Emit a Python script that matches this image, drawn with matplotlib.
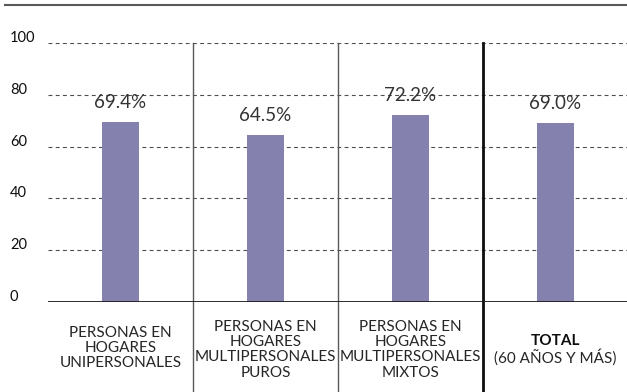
import matplotlib.pyplot as plt
import matplotlib
import matplotlib.transforms as mtransforms

matplotlib.rcParams.update({'font.family': ['Lato', 'DejaVu Sans']})

# Data ------------------------------------------------------------------------
categories = ['PERSONAS EN\nHOGARES\nUNIPERSONALES',
              'PERSONAS EN\nHOGARES\nMULTIPERSONALES\nPUROS',
              'PERSONAS EN\nHOGARES\nMULTIPERSONALES\nMIXTOS',
              'TOTAL']
values = [69.4, 64.5, 72.2, 69.0]
value_labels = ['69.4%', '64.5%', '72.2%', '69.0%']
yticks = [0, 20, 40, 60, 80, 100]

bar_color = '#8481ae'
# -----------------------------------------------------------------------------

fig = plt.figure(figsize=(6.27, 3.92), dpi=100)
ax = fig.add_axes([48 / 627, 1 - 302 / 392, 580 / 627, 259 / 392])

x = list(range(len(values)))
ax.bar(x, values, width=0.26, color=bar_color, zorder=3)

ax.set_xlim(-0.5, 3.5)
ax.set_ylim(0, 100)

# Dashed grid and heavy baseline
for t in yticks[1:]:
    ax.axhline(t, color='0.3', lw=0.8, ls=(0, (3.5, 3)), zorder=1)
ax.axhline(0, color='0.1', lw=2, zorder=4)

for s in ['top', 'right', 'left', 'bottom']:
    ax.spines[s].set_visible(False)
ax.set_xticks([])
ax.set_yticks([])

# Y tick labels, left aligned at the edge of the figure
for t in yticks:
    fig.text(10 / 627, ax.transData.transform((0, t))[1] / fig.dpi / 3.92 + 5 / 392,
             str(t), fontsize=10.5, color='0.05', ha='left', va='center')

# Value labels above the bars
for xi, v, lab in zip(x, values, value_labels):
    ax.annotate(lab, (xi, v), xytext=(0, 8), textcoords='offset points',
                ha='center', va='bottom', fontsize=13.5, color='0.2')

# Vertical separators running from the top of the axes to the bottom of the figure
trans = mtransforms.blended_transform_factory(ax.transData, ax.transAxes)
for xs, col, lw in [(0.5, '0.35', 1.0), (1.5, '0.35', 1.0), (2.5, '0.05', 2.0)]:
    ax.plot([xs, xs], [1.0, -0.36], transform=trans, color=col, lw=lw,
            clip_on=False, zorder=2)

# Category labels under the baseline
label_y = [-0.178, -0.185, -0.185]
for xi, lab, ly in zip(x[:3], categories[:3], label_y):
    ax.text(xi, ly, lab, transform=trans, ha='center', va='center',
            fontsize=11, color='0.15', linespacing=1.1)
ax.text(3, -0.150, categories[3], transform=trans, ha='center', va='center',
        fontsize=11, color='0.05', fontweight='bold')
ax.text(3, -0.212, '(60 AÑOS Y MÁS)', transform=trans, ha='center',
        va='center', fontsize=11, color='0.15')

# Rule across the top of the figure
fig.add_artist(plt.Line2D([5 / 627, 1.0], [1 - 5 / 392, 1 - 5 / 392],
                          color='0.35', lw=1.5))

plt.savefig('out.png', dpi=100)
